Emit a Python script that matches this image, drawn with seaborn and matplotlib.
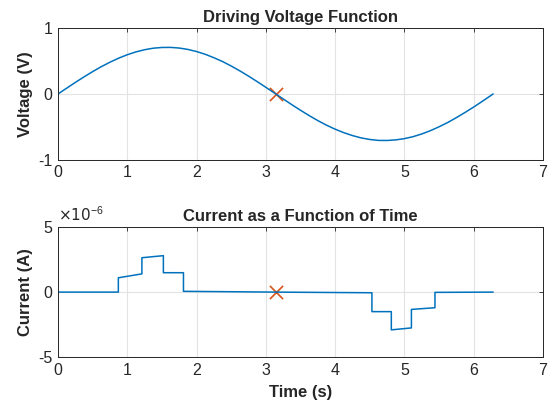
import numpy as np
import pandas as pd
import matplotlib
matplotlib.use("Agg")
import matplotlib.pyplot as plt
import seaborn as sns
from matplotlib.ticker import FuncFormatter

# Voltage
t_volt = [0, 0.125, 0.25, 0.375, 0.5, 0.625, 0.75, 0.875, 1.0, 1.125, 1.25,
          1.375, 1.5, 1.625, 1.75, 1.875, 2.0, 2.125, 2.25, 2.375, 2.5, 2.625,
          2.75, 2.875, 3.0, 3.125, 3.25, 3.375, 3.5, 3.625, 3.75, 3.875, 4.0,
          4.125, 4.25, 4.375, 4.5, 4.625, 4.75, 4.875, 5.0, 5.125, 5.25, 5.375,
          5.5, 5.625, 5.75, 5.875, 6.0, 6.125, 6.28]
volt = [0, 0.088, 0.175, 0.259, 0.339, 0.414, 0.482, 0.543, 0.595, 0.638,
        0.671, 0.694, 0.705, 0.706, 0.696, 0.675, 0.643, 0.601, 0.549, 0.491,
        0.423, 0.349, 0.270, 0.186, 0.100, 0.012, -0.076, -0.164, -0.248,
        -0.329, -0.405, -0.474, -0.535, -0.588, -0.632, -0.667, -0.691, -0.705,
        -0.706, -0.697, -0.678, -0.648, -0.607, -0.557, -0.498, -0.433, -0.359,
        -0.280, -0.198, -0.111, 0.0]

# Current (units of 1e-6 A), steps as repeated times
t_curr = [0, 0.87, 0.87, 1.21, 1.21, 1.52, 1.52, 1.81, 1.81, 3.14, 4.53, 4.53,
          4.81, 4.81, 5.10, 5.10, 5.44, 5.44, 6.28]
curr_u = [0.0, 0.0, 1.1, 1.4, 2.64, 2.8, 1.49, 1.49, 0.06, 0.0, -0.05, -1.5,
          -1.5, -2.9, -2.75, -1.33, -1.2, -0.02, 0.0]

marker_t = [3.1416]
marker_v = [0.0]

blue = "#0072BD"
orange = "#D95319"

sns.set_style("white")
plt.rcParams["font.family"] = ["Liberation Sans", "DejaVu Sans"]
plt.rcParams["axes.unicode_minus"] = False

fig = plt.figure(figsize=(5.53, 4.12), dpi=100)
ax1 = fig.add_axes([0.105, 0.612, 0.877, 0.320])
ax2 = fig.add_axes([0.105, 0.133, 0.877, 0.316])

df_v = pd.DataFrame({"t": t_volt, "v": volt})
df_i = pd.DataFrame({"t": t_curr, "i": np.array(curr_u) * 1e-6})

sns.lineplot(data=df_v, x="t", y="v", ax=ax1, color=blue, lw=1.1,
             estimator=None, sort=False)
sns.scatterplot(x=marker_t, y=marker_v, ax=ax1, marker="x", color=orange,
                s=90, linewidth=1.2)
sns.lineplot(data=df_i, x="t", y="i", ax=ax2, color=blue, lw=1.1,
             estimator=None, sort=False)
sns.scatterplot(x=marker_t, y=[0.0], ax=ax2, marker="x", color=orange,
                s=90, linewidth=1.2)

ax1.set_ylim(-1, 1)
ax1.set_yticks([-1, 0, 1])
ax2.set_ylim(-5e-6, 5e-6)
ax2.set_yticks([-5e-6, 0, 5e-6])
ax2.yaxis.set_major_formatter(FuncFormatter(lambda v, p: f"{v * 1e6:g}"))
ax2.text(0.0, 1.02, r"$\times10^{\mathregular{-6}}$", transform=ax2.transAxes,
         fontsize=11, color="#262626", ha="left", va="bottom")

for ax in (ax1, ax2):
    ax.set_xlim(0, 7)
    ax.set_xticks(range(8))
    ax.grid(True, color="#e3e3e3", lw=0.8)
    ax.tick_params(direction="in", length=3, top=True, right=True,
                   labelsize=11.5, colors="#262626", width=0.6, pad=4)
    for s in ax.spines.values():
        s.set_color("#262626")
        s.set_linewidth(0.7)

ax1.set_title("Driving Voltage Function", fontsize=12, fontweight="bold", pad=4)
ax1.set_xlabel("")
ax1.set_ylabel("Voltage (V)", fontsize=12, fontweight="bold")
ax2.set_title("Current as a Function of Time", fontsize=12, fontweight="bold", pad=4)
ax2.set_xlabel("Time (s)", fontsize=12, fontweight="bold", labelpad=5)
ax2.set_ylabel("Current (A)", fontsize=12, fontweight="bold")
ax1.yaxis.set_label_coords(-0.052, 0.5)
ax2.yaxis.set_label_coords(-0.052, 0.5)

fig.savefig("out.png", dpi=100)
